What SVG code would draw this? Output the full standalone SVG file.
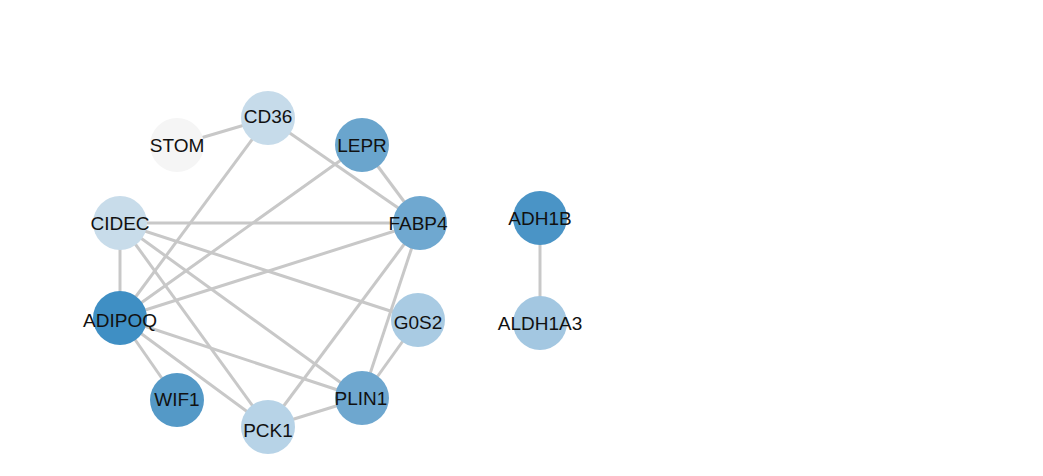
<svg xmlns="http://www.w3.org/2000/svg" width="1043" height="476" viewBox="0 0 1043 476">
<style>
.e line{stroke:#c8c8c8;stroke-width:3}
text{font-family:"Liberation Sans",Arial,sans-serif;font-size:19px;fill:#111;text-anchor:middle;dominant-baseline:central}
</style>
<rect width="1043" height="476" fill="#fff"/>
<g class="e" id="edges">
<line x1="177" y1="145" x2="268" y2="118"/>
<line x1="268" y1="118" x2="420" y2="223"/>
<line x1="268" y1="118" x2="120" y2="318"/>
<line x1="362" y1="145" x2="420" y2="223"/>
<line x1="362" y1="145" x2="120" y2="318"/>
<line x1="120" y1="223" x2="420" y2="223"/>
<line x1="120" y1="223" x2="120" y2="318"/>
<line x1="120" y1="223" x2="418" y2="320"/>
<line x1="120" y1="223" x2="362" y2="398"/>
<line x1="120" y1="223" x2="268" y2="427"/>
<line x1="120" y1="318" x2="420" y2="223"/>
<line x1="120" y1="318" x2="362" y2="398"/>
<line x1="120" y1="318" x2="268" y2="427"/>
<line x1="120" y1="318" x2="177" y2="400"/>
<line x1="420" y1="223" x2="268" y2="427"/>
<line x1="420" y1="223" x2="362" y2="398"/>
<line x1="418" y1="320" x2="362" y2="398"/>
<line x1="268" y1="427" x2="362" y2="398"/>
<line x1="540" y1="218" x2="540" y2="323"/>
</g>
<g id="STOM"><circle cx="177" cy="145" r="27" fill="#f5f5f5"/><text x="177" y="145">STOM</text></g>
<g id="CD36"><circle cx="268" cy="118" r="27" fill="#c6dbea"/><text x="268" y="116">CD36</text></g>
<g id="LEPR"><circle cx="362" cy="145" r="27" fill="#6aa5cd"/><text x="362" y="145">LEPR</text></g>
<g id="CIDEC"><circle cx="120" cy="223" r="27" fill="#c8dcea"/><text x="120" y="223">CIDEC</text></g>
<g id="FABP4"><circle cx="420" cy="223" r="27" fill="#6fa8d0"/><text x="418" y="223">FABP4</text></g>
<g id="G0S2"><circle cx="418" cy="320" r="27" fill="#a9cbe3"/><text x="418" y="322">G0S2</text></g>
<g id="ADIPOQ"><circle cx="120" cy="318" r="27" fill="#3f8fc4"/><text x="120" y="320">ADIPOQ</text></g>
<g id="WIF1"><circle cx="177" cy="400" r="27" fill="#5499c7"/><text x="177" y="399">WIF1</text></g>
<g id="PLIN1"><circle cx="362" cy="398" r="27" fill="#6ea7cf"/><text x="361" y="398">PLIN1</text></g>
<g id="PCK1"><circle cx="268" cy="427" r="27" fill="#b7d3e7"/><text x="268" y="430">PCK1</text></g>
<g id="ADH1B"><circle cx="540" cy="218" r="27" fill="#4a94c6"/><text x="540" y="218">ADH1B</text></g>
<g id="ALDH1A3"><circle cx="540" cy="323" r="27" fill="#a3c7e1"/><text x="540" y="323">ALDH1A3</text></g>
</svg>
